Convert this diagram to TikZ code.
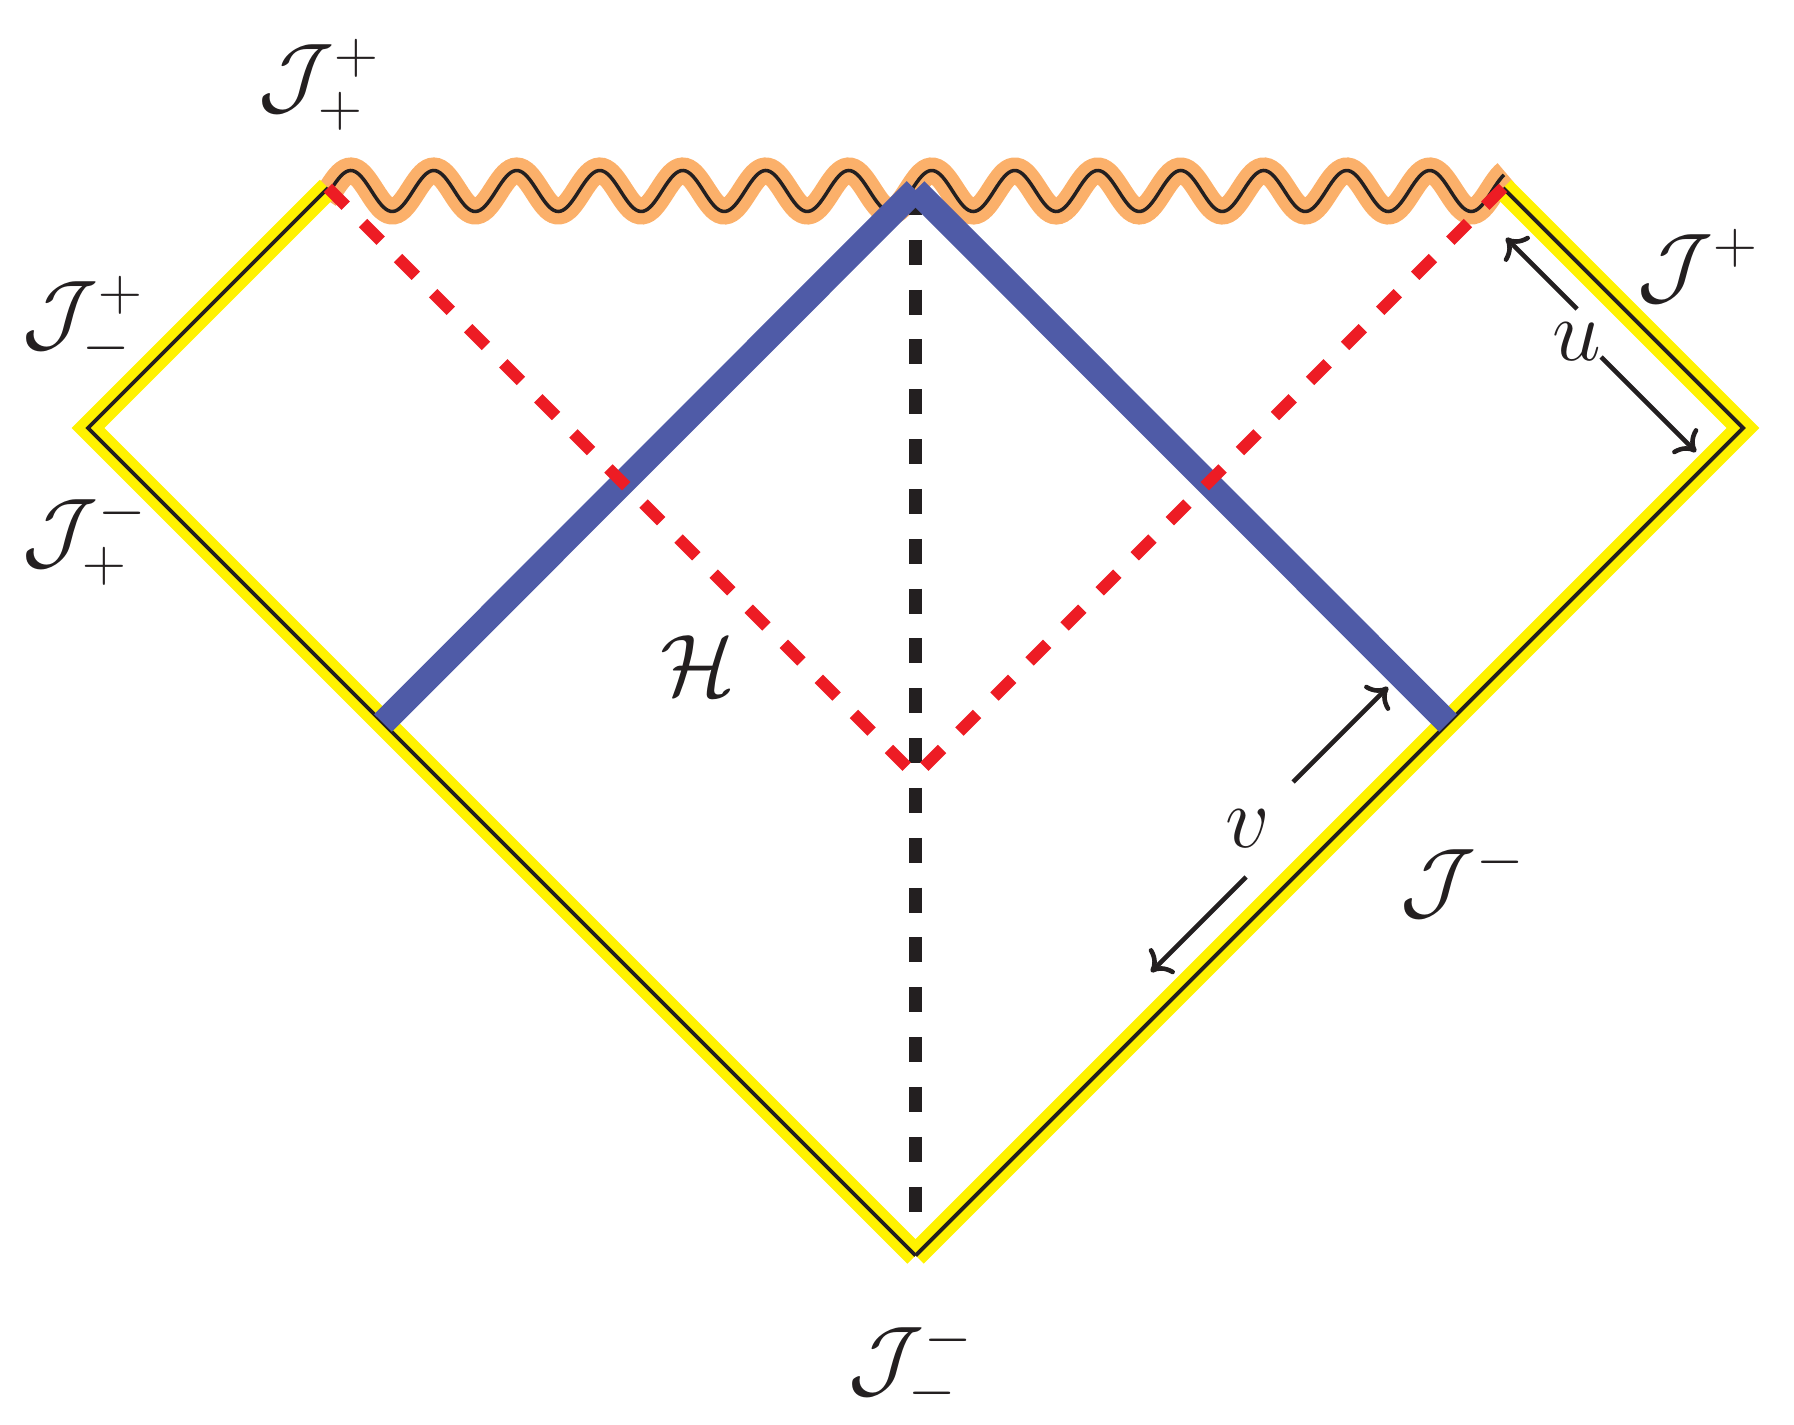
\documentclass[tikz,border=0pt]{standalone}
\usetikzlibrary{arrows.meta}
\DeclareMathSizes{24.88}{24.88}{17.28}{12}
\definecolor{cyel}{RGB}{255,242,0}
\definecolor{corange}{RGB}{251,176,106}
\definecolor{cblue}{RGB}{79,91,167}
\definecolor{cred}{RGB}{237,28,36}
\definecolor{cblk}{RGB}{35,31,32}
\begin{document}
\begin{tikzpicture}[x=0.01cm,y=-0.01cm,
  yellowline/.style={line width=6.6pt, draw=cyel, line join=miter},
  bndline/.style={line width=1.1pt, draw=cblk, line join=miter},
  blueline/.style={line width=7.1pt, draw=cblue},
  reddash/.style={line width=3.4pt, draw=cred, dash pattern=on 7.1pt off 7pt},
  blkdash/.style={line width=3.7pt, draw=cblk, dash pattern=on 7.1pt off 7.07pt},
  wavebg/.style={line width=7.4pt, draw=corange},
  wavefg/.style={line width=1pt, draw=cblk},
  arr/.style={line width=1.3pt, draw=cblk, -{Computer Modern Rightarrow[length=5pt,width=10pt]}},
  lab/.style={font=\Huge, inner sep=0pt, text=cblk}]
\path[use as bounding box] (0,0) rectangle (1794,1425);
% corners
\coordinate (TL) at (328,188);
\coordinate (TR) at (1503,188);
\coordinate (L) at (88,428);
\coordinate (R) at (1743,428);
\coordinate (B) at (915.5,1255.5);
\coordinate (P) at (915.5,190);
\coordinate (V) at (915.5,775.5);
\coordinate (BL) at (383,723);
\coordinate (BR) at (1448,723);
\coordinate (Pend) at (915.5,1215);
% singularity
\draw[wavebg] plot[domain=325:1506, samples=500, smooth] (\x,{191-20.5*sin(4.337349*(\x-330))});
\draw[wavefg] plot[domain=327:1504, samples=500, smooth] (\x,{191-20.5*sin(4.337349*(\x-330))});
% boundaries
\draw[yellowline] (TL) -- (L) -- (B);
\draw[yellowline] (TR) -- (R) -- (B);
\draw[bndline] (TL) -- (L) -- (B);
\draw[bndline] (TR) -- (R) -- (B);
% vertical dashed
\draw[blkdash] (P) -- (Pend);
% blue
\draw[blueline] (BL) -- (P);
\draw[blueline] (BR) -- (P);
% red
\draw[reddash] (TL) -- (V);
\draw[reddash] (TR) -- (V);
% arrows
\coordinate (u1s) at (1577,309);
\coordinate (u1e) at (1506,238);
\coordinate (u2s) at (1601,357);
\coordinate (u2e) at (1696,452);
\coordinate (v1s) at (1293,782);
\coordinate (v1e) at (1388,687);
\coordinate (v2s) at (1246,877);
\coordinate (v2e) at (1151,972);
\draw[arr] (u1s) -- (u1e);
\draw[arr] (u2s) -- (u2e);
\draw[arr] (v1s) -- (v1e);
\draw[arr] (v2s) -- (v2e);
% labels
\node[lab, anchor=base west] (jpp) at (258,105) {$\mathcal{J}^+_+$};
\node[lab, anchor=base west] (jpm) at (22,342) {$\mathcal{J}^+_-$};
\node[lab, anchor=base west] (jmp) at (22,560) {$\mathcal{J}^-_+$};
\node[lab, anchor=base west] (jp) at (1637,295) {$\mathcal{J}^+$};
\node[lab, anchor=base west] (jm) at (1400,909) {$\mathcal{J}^-$};
\node[lab, anchor=base west] (jmm) at (848,1387) {$\mathcal{J}^-_-$};
\node[lab] (h) at (698,666) {$\mathcal{H}$};
\node[lab] (u) at (1577,342) {$u$};
\node[lab] (v) at (1248,829) {$v$};
\end{tikzpicture}
\end{document}
